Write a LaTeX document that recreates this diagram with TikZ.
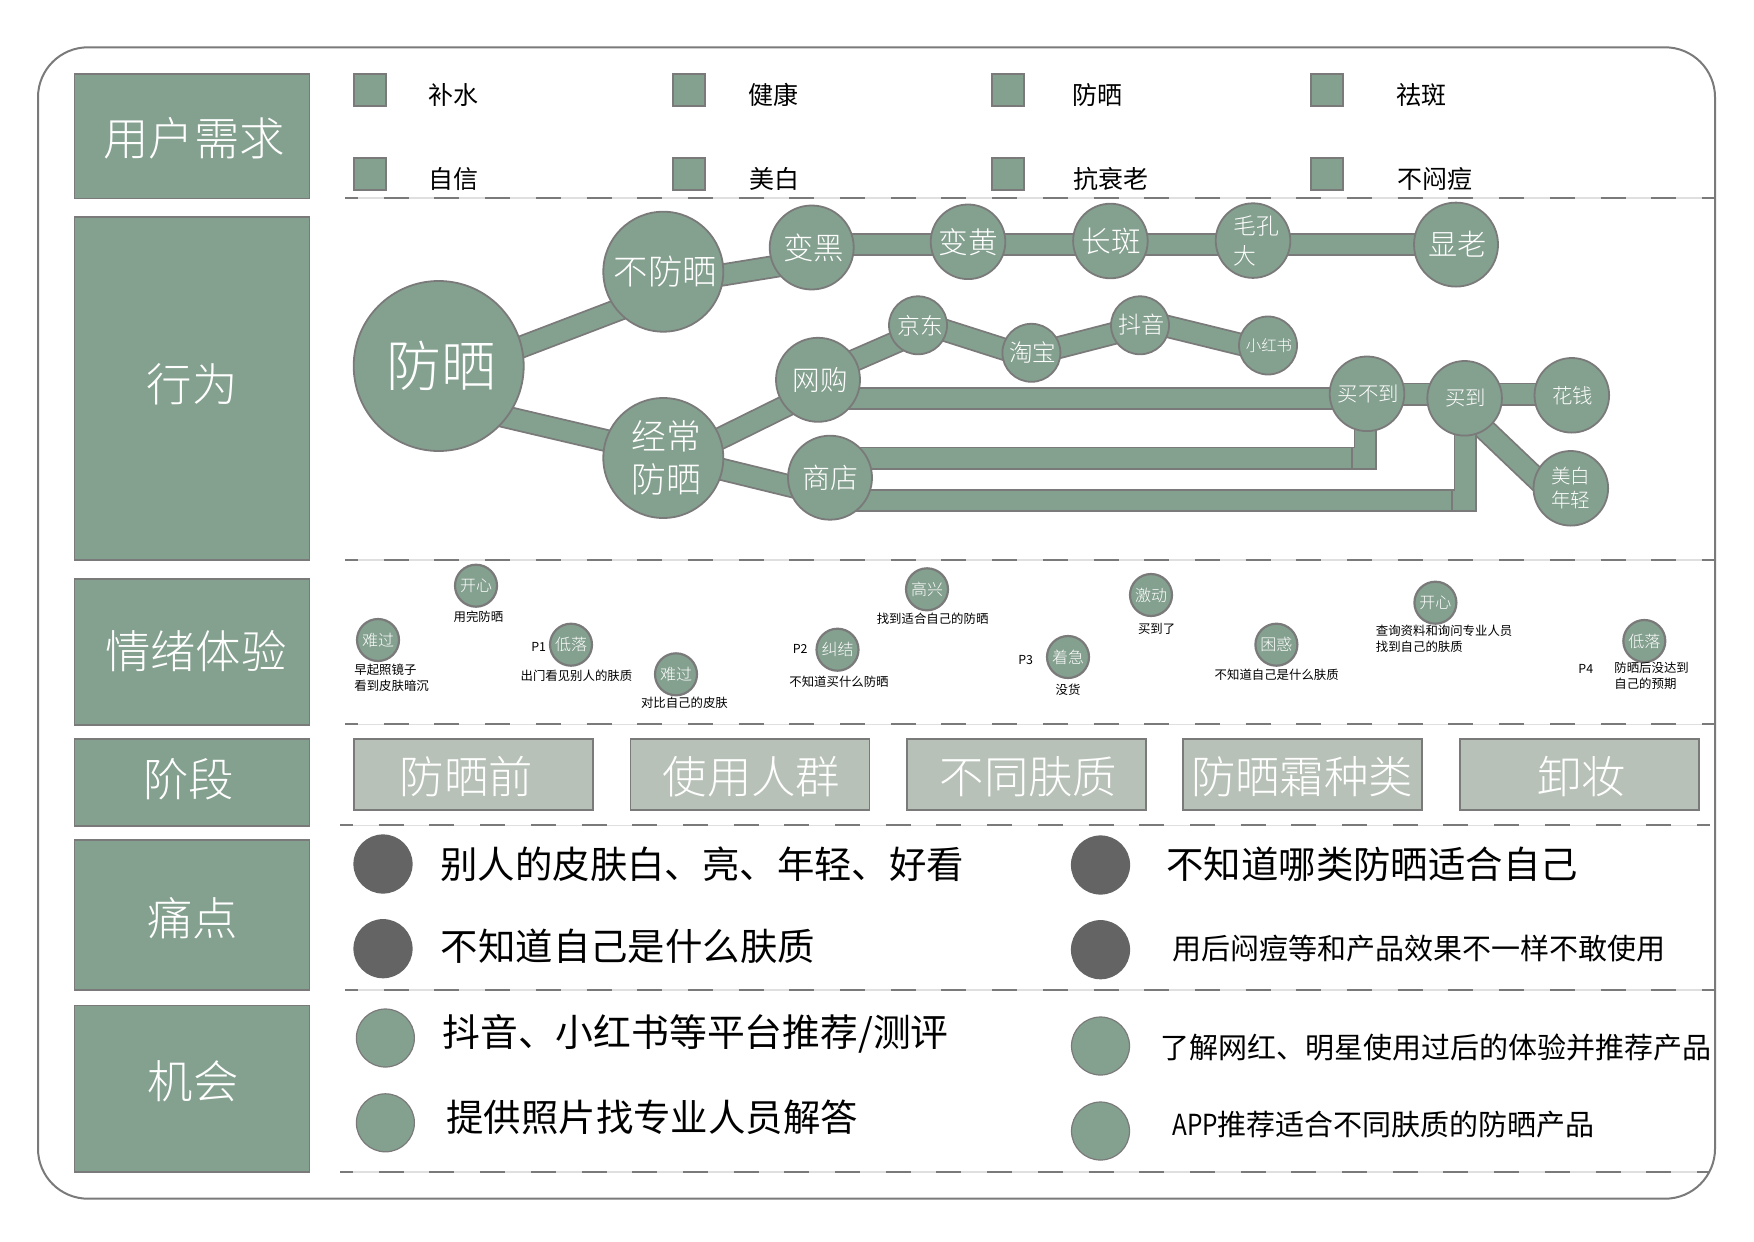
\documentclass[tikz,border=0pt]{standalone}
\usepackage{fontspec}
\setmainfont{Noto Sans CJK SC}
\newfontfamily\thinfont{Noto Sans CJK SC Light}
\usetikzlibrary{backgrounds}
\definecolor{sage}{HTML}{84A08F}
\definecolor{pale}{HTML}{B8C1B8}
\definecolor{edgegray}{HTML}{7A7A7A}
\definecolor{pain}{HTML}{646464}
\newcommand{\pxfont}[2]{\fontsize{#1}{#2}\selectfont}
\tikzset{
    sidebox/.style={draw=edgegray, fill=sage, line width=.9pt, minimum width=117.5pt, inner sep=0pt, outer sep=0pt},
    sidetitle/.style={inner sep=0pt, text=white, font=\thinfont\pxfont{22.7}{26}},
    stagebox/.style={draw=edgegray, fill=pale, line width=.9pt, minimum width=119.5pt, minimum height=35.5pt, inner sep=0pt},
    stagetitle/.style={inner sep=0pt, text=white, font=\thinfont\pxfont{22.2}{26}},
    swatch/.style={draw=edgegray, fill=sage, line width=.9pt, minimum size=16pt, inner sep=0pt},
    bubble/.style={circle, draw=edgegray, fill=sage, line width=.9pt, inner sep=0pt, outer sep=0pt, text=white},
    nudge/.style={execute at begin node={\hspace*{#1}}},
    dot/.style={circle, draw=edgegray, fill=sage, line width=.6pt, minimum size=29pt, inner sep=0pt},
    paindot/.style={dot, fill=pain, draw=pain},
    mood/.style={bubble, line width=1.1pt, minimum size=21pt, font=\thinfont\pxfont{8}{9}},
    band/.style={draw=edgegray, line width=.9pt, double=sage, double distance=9.7pt, shorten <=-8pt, shorten >=-8pt},
    tiny/.style={inner sep=0pt, font=\pxfont{6.2}{8}},
    legendtext/.style={anchor=west, inner sep=0pt, font=\pxfont{12.5}{15}},
    body/.style={anchor=west, inner sep=0pt, font=\pxfont{18.7}{22}},
    bodysmall/.style={anchor=west, inner sep=0pt, font=\pxfont{14.5}{18}},
    divider/.style={draw=edgegray, line width=1.1pt, dash pattern=on 12.5pt off 12.85pt, dash phase=6pt,
        preaction={draw=gray!25, line width=.8pt, solid}}
}
\begin{document}
\begin{tikzpicture}[x=.5pt, y=-.5pt]
    \useasboundingbox (0,0) rectangle (1754,1241);
    % Outer frame
    \draw[edgegray, line width=1pt, rounded corners=25pt] (38,47.3) rectangle (1715,1198.7);

    % Side titles
    \node[sidebox, minimum height=62.2pt] (need) at (191.9,136.3) {};
    \node[sidebox, minimum height=171.6pt] (act) at (191.9,388.3) {};
    \node[sidebox, minimum height=73pt] (mood) at (191.9,651.8) {};
    \node[sidebox, minimum height=43.5pt] (phase) at (191.9,782.2) {};
    \node[sidebox, minimum height=75pt] (ache) at (191.9,914.8) {};
    \node[sidebox, minimum height=83.2pt] (chance) at (191.9,1088.7) {};
    \node[sidetitle] at (194,137.8) {用户需求};
    \node[sidetitle] at (192.3,384.5) {行为};
    \node[sidetitle] at (195.8,651.5) {情绪体验};
    \node[sidetitle] at (188.8,779) {阶段};
    \node[sidetitle] at (192.5,918.5) {痛点};
    \node[sidetitle] at (193.3,1081) {机会};

    % Dividers
    \draw[divider] (345,198.3) -- (1715,198.3);
    \draw[divider] (345,560) -- (1715,560);
    \draw[divider] (345,724.3) -- (1715,724.3);
    \draw[divider] (340,825.3) -- (1710,825.3);
    \draw[divider] (345,989.7) -- (1715,989.7);
    \draw[divider] (340,1171.7) -- (1710,1171.7);

    % User needs
    \node[swatch] (needa) at (370,89.7) {};
    \node[swatch] (needb) at (689,89.7) {};
    \node[swatch] (needc) at (1008,89.7) {};
    \node[swatch] (needd) at (1327,89.7) {};
    \node[swatch] (neede) at (370,174.3) {};
    \node[swatch] (needf) at (689,174.3) {};
    \node[swatch] (needg) at (1008,174.3) {};
    \node[swatch] (needh) at (1327,174.3) {};
    \node[legendtext] at (427.7,95) {补水};
    \node[legendtext] at (748,95) {健康};
    \node[legendtext] at (1072.5,95) {防晒};
    \node[legendtext] at (1396,95) {祛斑};
    \node[legendtext] at (428.5,179.3) {自信};
    \node[legendtext] at (749,179.3) {美白};
    \node[legendtext] at (1073,179.3) {抗衰老};
    \node[legendtext] at (1396.7,179.3) {不闷痘};

    % Behaviour bubbles
    \node[bubble, nudge=2.5pt, minimum size=85pt, font=\thinfont\pxfont{27.4}{30}] (fangshai) at (438.7,366) {防晒};
    \node[bubble, nudge=2.2pt, minimum size=60pt, font=\thinfont\pxfont{17.2}{21}] (bufang) at (663.3,271.7) {不防晒};
    \node[bubble, minimum size=60pt, font=\thinfont\pxfont{17.4}{21.4}, align=center] (jingchang) at (663.3,458) {\hspace*{2.8pt}经常\\\hspace*{2.8pt}防晒};
    \node[bubble, nudge=2.2pt, minimum size=42pt, font=\thinfont\pxfont{15.2}{17}] (bianhei) at (811.7,247.5) {变黑};
    \node[bubble, minimum size=37.3pt, font=\thinfont\pxfont{14.8}{17}] (bianhuang) at (968,241.8) {变黄};
    \node[bubble, nudge=1pt, minimum size=37.3pt, font=\thinfont\pxfont{14.8}{17}] (changban) at (1110.4,241) {长斑};
    \node[bubble, minimum size=37.3pt, font=\thinfont\pxfont{11.4}{15}, align=left, text width=23pt] (maokong) at (1253,240.6) {\hspace*{1.7pt}毛孔\\\hspace*{1.7pt}大};
    \node[bubble, nudge=1.5pt, minimum size=42pt, font=\thinfont\pxfont{14.6}{17}] (xianlao) at (1456,244.6) {显老};
    \node[bubble, nudge=2.2pt, minimum size=42pt, font=\thinfont\pxfont{13.8}{16}] (wanggou) at (818,379.8) {网购};
    \node[bubble, nudge=.5pt, minimum size=42pt, font=\thinfont\pxfont{14}{16}] (shangdian) at (830,477.7) {商店};
    \node[bubble, nudge=2.5pt, minimum size=29pt, font=\thinfont\pxfont{11.4}{14}] (jingdong) at (918,325.3) {京东};
    \node[bubble, nudge=1.5pt, minimum size=29pt, font=\thinfont\pxfont{11.8}{14}] (taobao) at (1031.4,352.8) {淘宝};
    \node[bubble, nudge=1.5pt, minimum size=29pt, font=\thinfont\pxfont{11.6}{14}] (douyin) at (1140,325.3) {\raisebox{1.2pt}{抖音}};
    \node[bubble, nudge=1pt, minimum size=29pt, font=\thinfont\pxfont{7.7}{9}] (xiaohongshu) at (1268,345.5) {小红书};
    \node[bubble, nudge=1.5pt, minimum size=37.3pt, font=\thinfont\pxfont{10.2}{12}] (maibudao) at (1367,393.8) {买不到};
    \node[bubble, nudge=1pt, minimum size=37.3pt, font=\thinfont\pxfont{10.2}{12}] (maidao) at (1464.6,398.3) {\raisebox{1.5pt}{买到}};
    \node[bubble, nudge=1pt, minimum size=37.3pt, font=\thinfont\pxfont{10.2}{12}] (huaqian) at (1571.8,395.3) {\raisebox{-.8pt}{花钱}};
    \node[bubble, minimum size=37.3pt, font=\thinfont\pxfont{9.8}{11.8}, align=center] (meibai) at (1570.8,488.3) {美白\\年轻};

    % Bands behind the bubbles
    \coordinate (toprow) at (0,244.4);
    \coordinate (webrow) at (0,398.7);
    \coordinate (buyrow) at (0,394);
    \coordinate (elbowa) at (1365,458);
    \coordinate (elbowb) at (1465,500.7);
    \begin{pgfonlayer}{background}
        \draw[band] (fangshai.13) -- (bufang.220);
        \draw[band] (fangshai.-37) -- (jingchang.163);
        \draw[band] (bufang.-3) -- (bianhei.207);
        \draw[band] (bianhei |- toprow) -- (bianhuang |- toprow);
        \draw[band] (bianhuang |- toprow) -- (changban |- toprow);
        \draw[band] (changban |- toprow) -- (maokong |- toprow);
        \draw[band] (maokong |- toprow) -- (xianlao |- toprow);
        \draw[band] (jingchang.19) -- (wanggou.219);
        \draw[band] (jingchang.-11) -- (shangdian.191);
        \draw[band] (wanggou.28) -- (jingdong.217);
        \draw[band] (jingdong.-11) -- (taobao.172);
        \draw[band] (taobao.11) -- (douyin.197);
        \draw[band] (douyin.-3) -- (xiaohongshu.177);
        \draw[band] (wanggou |- webrow) -- (maibudao |- webrow);
        \draw[band] (maibudao |- buyrow) -- (maidao |- buyrow);
        \draw[band] (maidao |- buyrow) -- (huaqian |- buyrow);
        \draw[band] (maidao.-57) -- (meibai.163);
        \draw[band] (shangdian |- elbowa) -- (elbowa) -- (elbowa |- maibudao);
        \draw[band] (shangdian |- elbowb) -- (elbowb) -- (elbowb |- maidao);
    \end{pgfonlayer}
    \draw[edgegray, line width=.7pt] (1352,447) -- (1352,469);
    \draw[edgegray, line width=.7pt] (1452,489) -- (1452,512);

    % Mood row
    \node[mood] (sada) at (378,640) {难过};
    \node[mood] (gladA) at (476,585.7) {开心};
    \node[mood] (lowa) at (571,644.7) {低落};
    \node[mood] (sadb) at (676,674.3) {难过};
    \node[mood] (torn) at (837.5,649.7) {纠结};
    \node[mood] (happy) at (927,589.3) {高兴};
    \node[mood] (rush) at (1068,657) {着急};
    \node[mood] (thrill) at (1151,595) {激动};
    \node[mood] (puzzle) at (1276.4,644.7) {困惑};
    \node[mood] (gladB) at (1435.4,602.7) {开心};
    \node[mood] (lowb) at (1644.3,641) {低落};
    \node[tiny, anchor=west, align=left] at (354,677.5) {早起照镜子\\看到皮肤暗沉};
    \node[tiny] at (478.4,617) {用完防晒};
    \node[tiny] at (538.7,646.7) {P1};
    \node[tiny] at (576.4,676) {出门看见别人的肤质};
    \node[tiny] at (684.4,702.7) {对比自己的皮肤};
    \node[tiny] at (800.2,649) {P2};
    \node[tiny] at (839,681.7) {不知道买什么防晒};
    \node[tiny] at (932.6,619) {找到适合自己的防晒};
    \node[tiny] at (1025.7,660) {P3};
    \node[tiny] at (1068,690) {没货};
    \node[tiny] at (1156.6,629) {买到了};
    \node[tiny] at (1276.7,675) {不知道自己是什么肤质};
    \node[tiny, anchor=west, align=left] at (1375.5,639.2) {查询资料和询问专业人员\\找到自己的肤质};
    \node[tiny] at (1585.8,669) {P4};
    \node[tiny, anchor=west, align=left] at (1614,676.3) {防晒后没达到\\自己的预期};

    % Stages
    \node[stagebox] (stagea) at (473.5,774.7) {};
    \node[stagebox] (stageb) at (750,774.7) {};
    \node[stagebox] (stagec) at (1026.5,774.7) {};
    \node[stagebox] (staged) at (1302.7,774.7) {};
    \node[stagebox] (stagee) at (1579.2,774.7) {};
    \node[stagetitle] at (466.5,776.8) {防晒前};
    \node[stagetitle] at (751.5,776.8) {使用人群};
    \node[stagetitle] at (1028.5,776.8) {不同肤质};
    \node[stagetitle] at (1302,776.8) {防晒霜种类};
    \node[stagetitle] at (1581.5,776.8) {卸妆};

    % Pain points
    \node[paindot] (paina) at (383,864) {};
    \node[paindot] (painb) at (383,948.7) {};
    \node[paindot] (painc) at (1100.5,865) {};
    \node[paindot] (paind) at (1100.5,949.7) {};
    \node[body] at (440,864) {别人的皮肤白、亮、年轻、好看};
    \node[body] at (440.5,946) {不知道自己是什么肤质};
    \node[body] at (1166,864) {不知道哪类防晒适合自己};
    \node[bodysmall] at (1172.5,948) {用后闷痘等和产品效果不一样不敢使用};

    % Chances
    \node[dot] (chancea) at (385.4,1038) {};
    \node[dot] (chanceb) at (385.4,1122.8) {};
    \node[dot] (chancec) at (1100.5,1046) {};
    \node[dot] (chanced) at (1100.5,1131) {};
    \node[body, font=\pxfont{18.9}{22}] at (442,1033.5) {抖音、小红书等平台推荐/测评};
    \node[body] at (446,1117) {提供照片找专业人员解答};
    \node[bodysmall] at (1160.4,1047.5) {了解网红、明星使用过后的体验并推荐产品};
    \node[bodysmall] at (1171.8,1125) {\scalebox{.84}[1]{APP}推荐适合不同肤质的防晒产品};
\end{tikzpicture}
\end{document}
